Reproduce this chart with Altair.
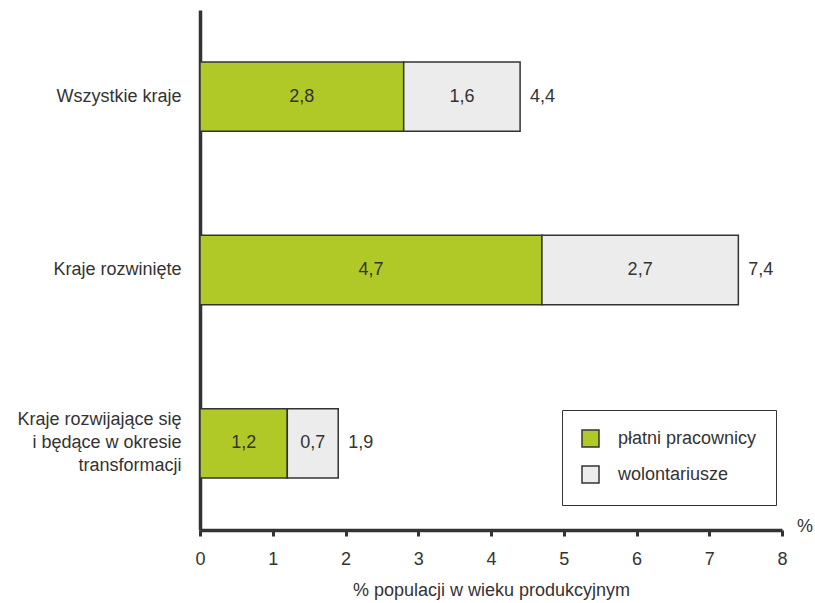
import altair as alt
import pandas as pd

categories = ["Wszystkie kraje", "Kraje rozwinięte",
              "Kraje rozwijające się|i będące w okresie|transformacji"]
paid = [2.8, 4.7, 1.2]
volunteers = [1.6, 2.7, 0.7]
totals = [4.4, 7.4, 1.9]
series_names = ["płatni pracownicy", "wolontariusze"]
colors = ["#b1c926", "#ebeceb"]

rows = []
for c, p, v in zip(categories, paid, volunteers):
    rows.append({"cat": c, "series": series_names[0], "start": 0.0, "end": p,
                 "mid": p / 2, "lab": f"{p:.1f}".replace(".", ",")})
    rows.append({"cat": c, "series": series_names[1], "start": p, "end": p + v,
                 "mid": p + v / 2, "lab": f"{v:.1f}".replace(".", ",")})
seg = pd.DataFrame(rows)
tot = pd.DataFrame({"cat": categories, "total": totals,
                    "lab": [f"{t:.1f}".replace(".", ",") for t in totals]})

FONT = "Liberation Sans"
TXT = "#333333"
FS = 18

xscale = alt.Scale(domain=[0, 8], nice=False, zero=True)
yscale = alt.Scale(domain=categories, paddingInner=0.6, paddingOuter=0.3)

xaxis = alt.Axis(values=list(range(0, 9)), format="d", grid=False,
                 title="% populacji w wieku produkcyjnym",
                 domainColor=TXT, domainWidth=3.5, tickColor=TXT, tickWidth=3, tickSize=6,
                 labelFont=FONT, labelFontSize=FS, labelColor=TXT, labelPadding=14,
                 titleFont=FONT, titleFontSize=FS, titleColor=TXT, titleFontWeight="normal",
                 titlePadding=13, labelFlush=False)
yaxis = alt.Axis(title=None, ticks=False, domainColor=TXT, domainWidth=3.5,
                 labelFont=FONT, labelFontSize=FS, labelColor=TXT, labelPadding=19,
                 labelExpr="split(datum.label, '|')", labelLineHeight=23, labelLimit=300,
                 labelOffset={"condition": {"test": "indexof(datum.value, '|') >= 0", "value": -23},
                              "value": 0})

bars = alt.Chart(seg).mark_bar(stroke=TXT, strokeWidth=1.5, opacity=1).encode(
    y=alt.Y("cat:N", scale=yscale, axis=yaxis, sort=categories),
    x=alt.X("start:Q", scale=xscale, axis=xaxis),
    x2="end:Q",
    color=alt.Color("series:N", scale=alt.Scale(domain=series_names, range=colors),
                    legend=alt.Legend(title=None, orient="none", legendX=362, legendY=400,
                                      strokeColor=TXT, fillColor="white", padding=19,
                                      symbolType="square", symbolSize=289,
                                      symbolStrokeColor=TXT, symbolStrokeWidth=1.5,
                                      symbolOpacity=1, labelFont=FONT, labelFontSize=FS,
                                      labelColor=TXT, labelOffset=18, rowPadding=13)),
)

seg_text = alt.Chart(seg).mark_text(font=FONT, fontSize=FS, color=TXT).encode(
    y=alt.Y("cat:N", scale=yscale, sort=categories),
    x=alt.X("mid:Q", scale=xscale),
    text="lab:N",
)

tot_text = alt.Chart(tot).mark_text(font=FONT, fontSize=FS, color=TXT, align="left", dx=10).encode(
    y=alt.Y("cat:N", scale=yscale, sort=categories),
    x=alt.X("total:Q", scale=xscale),
    text="lab:N",
)

pct = alt.Chart(pd.DataFrame({"t": ["%"]})).mark_text(
    font=FONT, fontSize=FS, color=TXT, align="left").encode(
    x=alt.value(597), y=alt.value(517), text="t:N")

chart = alt.layer(bars, seg_text, tot_text, pct).properties(
    width=582, height=520,
    autosize=alt.AutoSizeParams(type="none"),
    padding={"left": 200, "top": 10, "right": 33, "bottom": 73},
    background="white",
).configure_view(stroke=None)

chart.save("out.html", embed_options={"renderer": "svg", "actions": False})
